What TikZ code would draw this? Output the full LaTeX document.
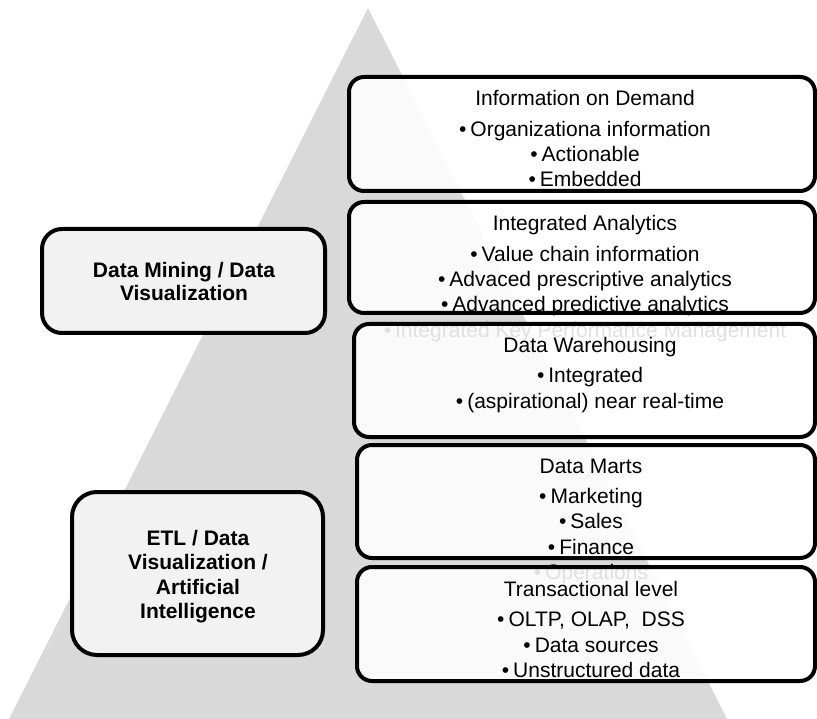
\documentclass[tikz,border=0pt]{standalone}
\usepackage{fontspec}
\setmainfont{Liberation Sans}
\definecolor{tri}{HTML}{D9D9D9}
\definecolor{lfill}{HTML}{F2F2F2}
\newcommand{\bul}{•\hspace{4pt}}
\begin{document}
\begin{tikzpicture}[x=1pt,y=-1pt,
  rbox/.style={draw=black, line width=4pt, rounded corners=15pt, fill=white, fill opacity=0.88, inner sep=0pt},
  lbox/.style={draw=black, line width=4pt, fill=lfill, inner sep=0pt},
  rt/.style={anchor=base, inner sep=0pt, font=\fontsize{21}{25}\selectfont},
  lt/.style={anchor=base, inner sep=0pt, font=\fontsize{21}{24}\selectfont\bfseries}]
\useasboundingbox (0,0) rectangle (817,719);
% pyramid
\fill[tri] (368,8) -- (727,719) -- (9,719) -- cycle;
% box 1
\node[rbox, minimum width=466pt, minimum height=114pt] (b1) at (582,134) {};
\node[rt] (t1a) at (585,106) {Information on Demand};
\node[rt] (t1b) at (585,137) {\bul Organizationa information};
\node[rt] (t1c) at (585,162) {\bul Actionable};
\node[rt] (t1d) at (585,187) {\bul Embedded};
% box 2
\node[rbox, minimum width=466pt, minimum height=111pt] (b2) at (582,257.5) {};
\node[rt] (t2a) at (585,231) {Integrated Analytics};
\node[rt] (t2b) at (585,262) {\bul Value chain information};
\node[rt] (t2c) at (585,287) {\bul Advaced prescriptive analytics};
\node[rt] (t2d) at (585,312) {\bul Advanced predictive analytics};
\node[rt] (t2e) at (585,338) {\bul Integrated Key Performance Management};
% box 3
\node[rbox, minimum width=461pt, minimum height=113pt] (b3) at (584.5,380.5) {};
\node[rt] (t3a) at (590,353) {Data Warehousing};
\node[rt] (t3b) at (590,383) {\bul Integrated};
\node[rt] (t3c) at (590,409) {\bul (aspirational) near real-time};
% box 4
\node[rbox, minimum width=458pt, minimum height=113pt] (b4) at (586,501.5) {};
\node[rt] (t4a) at (591,473) {Data Marts};
\node[rt] (t4b) at (591,503) {\bul Marketing};
\node[rt] (t4c) at (591,528) {\bul Sales};
\node[rt] (t4d) at (591,554) {\bul Finance};
\node[rt] (t4e) at (591,579) {\bul Operations};
% box 5
\node[rbox, minimum width=458pt, minimum height=114pt] (b5) at (586,624) {};
\node[rt] (t5a) at (591,596) {Transactional level};
\node[rt] (t5b) at (591,626) {\bul OLTP, OLAP,\ \ DSS};
\node[rt] (t5c) at (591,652) {\bul Data sources};
\node[rt] (t5d) at (591,677) {\bul Unstructured data};
% left boxes
\node[lbox, rounded corners=20pt, minimum width=283pt, minimum height=104pt] (l1) at (183.5,281) {};
\node[lt] (l1a) at (184,278) {Data Mining / Data};
\node[lt] (l1b) at (184,301) {Visualization};
\node[lbox, rounded corners=25pt, minimum width=251pt, minimum height=163pt] (l2) at (197.5,573.5) {};
\node[lt] (l2a) at (198,545) {ETL / Data};
\node[lt] (l2b) at (198,569) {Visualization /};
\node[lt] (l2c) at (198,594) {Artificial};
\node[lt] (l2d) at (198,618) {Intelligence};
\end{tikzpicture}
\end{document}
